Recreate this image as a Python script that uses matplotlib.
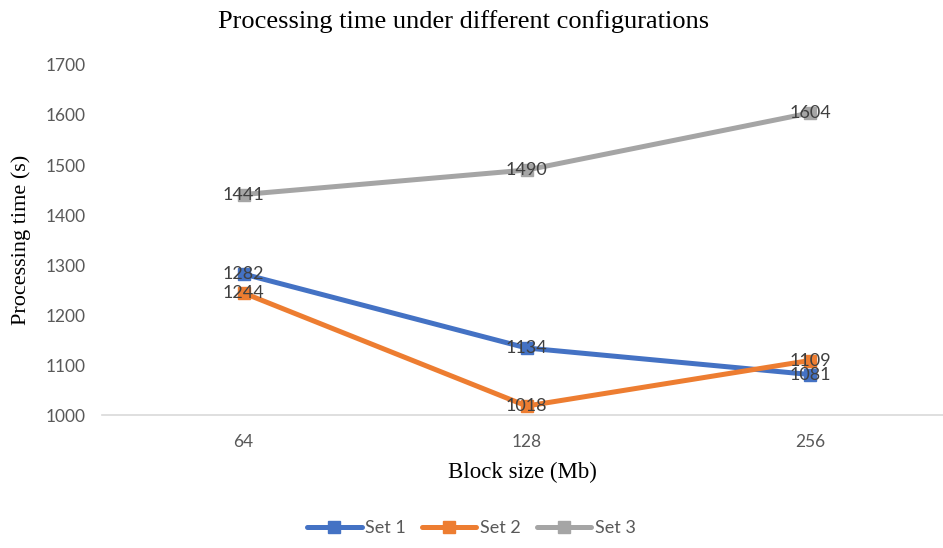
import matplotlib.pyplot as plt

block_sizes = ['64', '128', '256']
set1 = [1282, 1134, 1081]
set2 = [1244, 1018, 1109]
set3 = [1441, 1490, 1604]
series_names = ['Set 1', 'Set 2', 'Set 3']
colors = ['#4472C4', '#ED7D31', '#A5A5A5']
yticks = [1000, 1100, 1200, 1300, 1400, 1500, 1600, 1700]

fig = plt.figure(figsize=(9.43, 5.48), dpi=100)
ax = fig.add_axes([102/943, (548-415)/548, (943-102)/943, (415-65)/548])

x = list(range(len(block_sizes)))
for vals, name, c in zip([set1, set2, set3], series_names, colors):
    ax.plot(x, vals, color=c, lw=3.6, marker='s', ms=8, label=name, solid_capstyle='round')
    for xi, v in zip(x, vals):
        ax.text(xi, v, str(v), ha='center', va='center', fontsize=13,
                family='Lato', color='#404040')

ax.set_xlim(-0.5, 2.47)
ax.set_ylim(1000, 1700)
ax.set_yticks(yticks)
ax.set_xticks(x)
ax.set_xticklabels(block_sizes)
for lab in ax.get_xticklabels() + ax.get_yticklabels():
    lab.set_family('Lato')
    lab.set_fontsize(12.5)
    lab.set_color('#595959')
ax.tick_params(length=0, pad=14)
ax.tick_params(axis='y', pad=12)

for s in ['top', 'right', 'left']:
    ax.spines[s].set_visible(False)
ax.spines['bottom'].set_color('#D9D9D9')
ax.spines['bottom'].set_linewidth(1.2)

fig.text(0.492, 1 - 22/548, 'Processing time under different configurations',
         family='Liberation Serif', fontsize=19, ha='center', va='center')
ax.set_xlabel('Block size (Mb)', family='Liberation Serif', fontsize=16.5, labelpad=8)
ax.set_ylabel('Processing time (s)', family='Liberation Serif', fontsize=16, labelpad=10)

leg = fig.legend(loc='lower center', ncol=3, frameon=False, bbox_to_anchor=(0.5, -0.008),
                 prop={'family': 'Lato', 'size': 13}, handlelength=3.0, columnspacing=0.9,
                 handletextpad=0.2)
for t in leg.get_texts():
    t.set_color('#595959')

fig.savefig('out.png', dpi=100)
